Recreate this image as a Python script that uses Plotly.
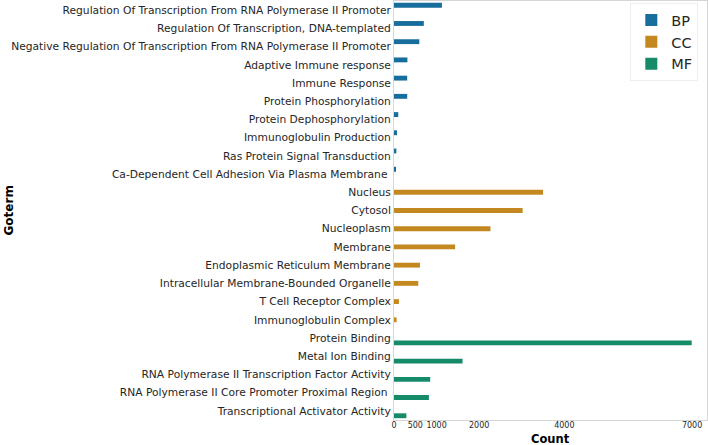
import plotly.graph_objects as go

bp_terms = ["Regulation Of Transcription From RNA Polymerase II Promoter",
            "Regulation Of Transcription, DNA-templated",
            "Negative Regulation Of Transcription From RNA Polymerase II Promoter",
            "Adaptive Immune response",
            "Immune Response",
            "Protein Phosphorylation",
            "Protein Dephosphorylation",
            "Immunoglobulin Production",
            "Ras Protein Signal Transduction",
            "Ca-Dependent Cell Adhesion Via Plasma Membrane "]
bp_counts = [1125, 700, 595, 315, 310, 310, 100, 70, 55, 25]

cc_terms = ["Nucleus", "Cytosol", "Nucleoplasm", "Membrane",
            "Endoplasmic Reticulum Membrane",
            "Intracellular Membrane-Bounded Organelle",
            "T Cell Receptor Complex", "Immunoglobulin Complex"]
cc_counts = [3500, 3020, 2265, 1435, 610, 570, 115, 60]

mf_terms = ["Protein Binding", "Metal Ion Binding",
            "RNA Polymerase II Transcription Factor Activity",
            "RNA Polymerase II Core Promoter Proximal Region ",
            "Transcriptional Activator Activity"]
mf_counts = [6990, 1610, 850, 820, 290]

x_ticks = [0, 500, 1000, 2000, 4000, 7000]

colors = {"BP": "#176d9c", "CC": "#c38820", "MF": "#168b6a"}

all_terms = bp_terms + cc_terms + mf_terms

# seaborn-style dodge: each category has 3 hue slots inside a 0.8 wide band
slot = 0.8 / 3

fig = go.Figure()
for i, (name, terms, counts) in enumerate([("BP", bp_terms, bp_counts),
                                           ("CC", cc_terms, cc_counts),
                                           ("MF", mf_terms, mf_counts)]):
    fig.add_trace(go.Bar(x=counts, y=terms, orientation="h", name=name,
                         width=slot, offset=-0.4 + i * slot,
                         marker=dict(color=colors[name], line=dict(width=0))))

fig.update_layout(
    width=708, height=445,
    barmode="overlay",
    plot_bgcolor="white", paper_bgcolor="white",
    margin=dict(l=394, r=1, t=1, b=25, autoexpand=False),
    font=dict(family="DejaVu Sans", color="#262626"),
    showlegend=True,
    legend=dict(x=0.755, y=0.995, xanchor="left", yanchor="top",
                font=dict(size=14.5, color="#262626"),
                bgcolor="rgba(255,255,255,0.8)", bordercolor="#eeeeee", borderwidth=1,
                itemwidth=30, tracegroupgap=0),
    annotations=[
        dict(text="<b>Count</b>", x=0.5, y=-19 / 419, xref="paper", yref="paper",
             yanchor="middle", showarrow=False, font=dict(size=11.5, color="black")),
        dict(text="<b>Goterm</b>", x=-386 / 313, y=0.5, xref="paper", yref="paper",
             xanchor="center", textangle=-90, showarrow=False,
             font=dict(size=12, color="black")),
    ],
)

fig.update_xaxes(range=[0, 7350], tickvals=x_ticks, ticktext=[str(t) for t in x_ticks],
                 tickangle=0, tickfont=dict(size=8), ticklabelstandoff=-3,
                 showgrid=False, zeroline=False,
                 showline=True, linecolor="#d6d6d6", mirror=True, ticks="", automargin=False)
fig.update_yaxes(categoryorder="array", categoryarray=all_terms, autorange="reversed",
                 tickfont=dict(size=10.7), showgrid=False, zeroline=False,
                 showline=True, linecolor="#d6d6d6", mirror=True, ticks="", automargin=False)

# drop the browser's default body margin so the figure sits at the page corner
fig.write_html("out.html", config={"displayModeBar": False},
               post_script="document.body.style.margin='0';")
